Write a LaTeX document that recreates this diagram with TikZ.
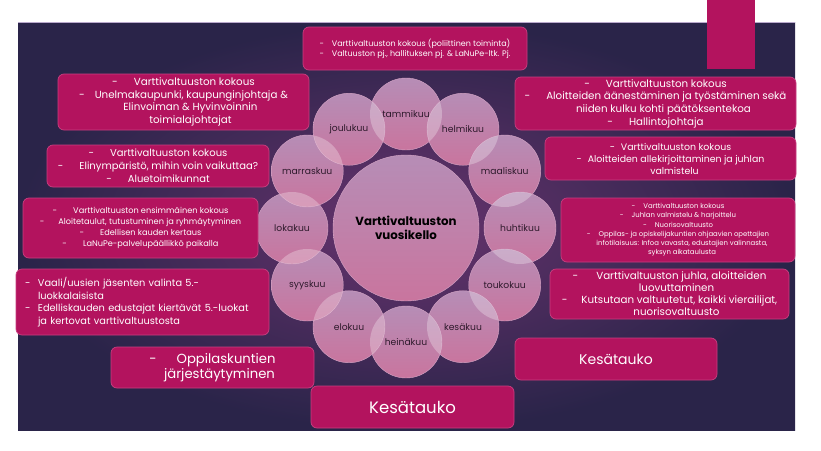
\documentclass[tikz,border=0pt]{standalone}
\usepackage{fontspec}
\setmainfont{Poppins}
\definecolor{bgdark}{HTML}{2A2449}
\definecolor{bgmid}{HTML}{68336E}
\definecolor{boxpink}{HTML}{B3135E}
\definecolor{boxedge}{HTML}{C93F80}
\definecolor{ctop}{HTML}{B68DB6}
\definecolor{cbot}{HTML}{C9759E}
\definecolor{cedge}{HTML}{D6A6C6}
\definecolor{mtext}{HTML}{2E1A2C}
\definecolor{topline}{HTML}{B9A9CC}
\newcommand{\dsh}[1]{-\hspace{#1}}
\begin{document}
\begin{tikzpicture}[x=1pt,y=-1pt,
  pbox/.style={rectangle, rounded corners=6pt, fill=boxpink, draw=boxedge, line width=0.7pt, text=white, align=center, inner sep=0pt},
  month/.style={circle, minimum size=72pt, inner sep=0pt, top color=ctop, bottom color=cbot, draw=cedge, line width=0.4pt},
  mlabel/.style={text=mtext, font=\fontsize{9.2}{10}\selectfont},
  lens/.style={white, opacity=0.28}]
\useasboundingbox (0,0) rectangle (821,450);
\fill[white] (0,0) rectangle (821,450);
% slide background
\shade[inner color=bgmid, outer color=bgdark] (18,22) rectangle (795,430);
\draw[topline, line width=0.6pt] (18,22) -- (795,22);
% top-right tab
\fill[boxpink] (707,0) rectangle (755,69);

% centre circle
\node[circle, minimum size=146pt, inner sep=0pt, top color=ctop, bottom color=cbot, draw=cedge, line width=0.4pt,
      text=black, align=center, font=\fontsize{11.8}{13.5}\selectfont\bfseries] (c) at (406,228) {Varttivaltuuston\\vuosikello};

% month circles
\foreach \i in {1,...,12}{
  \node[month] (m\i) at ({406+114*cos(30*(\i-1)-90)},{228+114*sin(30*(\i-1)-90)}) {};
}
% lighter overlaps
\foreach \i in {1,...,12}{
  \pgfmathtruncatemacro\j{mod(\i,12)+1}
  \begin{scope}
    \clip (m\i.center) circle (36pt);
    \fill[lens] (m\j.center) circle (36pt);
  \end{scope}
}
% month labels
\foreach \i/\m in {1/tammikuu,2/helmikuu,3/maaliskuu,4/huhtikuu,5/toukokuu,6/kesäkuu,7/heinäkuu,8/elokuu,9/syyskuu,10/lokakuu,11/marraskuu,12/joulukuu}{
  \node[mlabel] (l\i) at (m\i) {\m};
}

% top box
\node[pbox, minimum width=224pt, minimum height=43pt, align=left, font=\fontsize{8}{10.2}\selectfont] (t) at (415,48.5)
 {\dsh{8pt}Varttivaltuuston kokous (poliittinen toiminta)\\ \dsh{8pt}Valtuuston pj., hallituksen pj. \& LaNuPe-ltk. Pj.};

% left boxes
\node[pbox, minimum width=251pt, minimum height=56pt, font=\fontsize{10.3}{12.6}\selectfont] (l1) at (183.5,102)
 {\dsh{16pt}Varttivaltuuston kokous\\ \dsh{10pt}Unelmakaupunki, kaupunginjohtaja \&\\ \hspace{14pt}Elinvoiman \& Hyvinvoinnin\\ \hspace{14pt}toimialajohtajat};
\node[pbox, minimum width=222pt, minimum height=42pt, font=\fontsize{10}{12.8}\selectfont] (l2) at (158,166)
 {\dsh{16pt}Varttivaltuuston kokous\\ \dsh{16pt}Elinympäristö, mihin voin vaikuttaa?\\ \dsh{16pt}Aluetoimikunnat};
\node[pbox, minimum width=235pt, minimum height=60pt, font=\fontsize{8.2}{11}\selectfont] (l3) at (140.5,228)
 {\dsh{16pt}Varttivaltuuston ensimmäinen kokous\\ \dsh{14pt}Aloitetaulut, tutustuminen ja ryhmäytyminen\\ \dsh{16pt}Edellisen kauden kertaus\\ \dsh{16pt}LaNuPe-palvelupäällikkö paikalla};
\node[pbox, minimum height=66pt, text width=235pt, inner xsep=9pt, align=left, font=\fontsize{9.8}{12.5}\selectfont] (l4) at (142.5,302)
 {\makebox[13pt][l]{-}Vaali/uusien jäsenten valinta 5.-\\ \hspace*{13pt}luokkalaisista\\ \makebox[13pt][l]{-}Edelliskauden edustajat kiertävät 5.-luokat\\ \hspace*{13pt}ja kertovat varttivaltuustosta};
\node[pbox, minimum width=203pt, minimum height=41pt, font=\fontsize{13.2}{15}\selectfont] (l5) at (212.5,367.5)
 {\dsh{20pt}Oppilaskuntien\\ \hspace{14pt}järjestäytyminen};
\node[pbox, minimum width=203pt, minimum height=42pt, font=\fontsize{16.5}{18}\selectfont] (k1) at (412.5,407) {Kesätauko};

% right boxes
\node[pbox, minimum width=281pt, minimum height=53pt, font=\fontsize{10.3}{12.7}\selectfont] (r1) at (655.5,103.5)
 {\dsh{16pt}Varttivaltuuston kokous\\ \dsh{16pt}Aloitteiden äänestäminen ja työstäminen sekä\\ \hspace{16pt}niiden kulku kohti päätöksentekoa\\ \dsh{16pt}Hallintojohtaja};
\node[pbox, minimum width=251pt, minimum height=43pt, font=\fontsize{9.4}{12}\selectfont] (r2) at (670.5,158.5)
 {\dsh{6pt}Varttivaltuuston kokous\\ \dsh{6pt}Aloitteiden allekirjoittaminen ja juhlan\\ \hspace{8pt}valmistelu};
\node[pbox, minimum width=234pt, minimum height=64pt, font=\fontsize{6.9}{9.2}\selectfont] (r3) at (678,230)
 {\dsh{8pt}Varttivaltuuston kokous\\ \dsh{8pt}Juhlan valmistelu \& harjoittelu\\ \dsh{8pt}Nuorisovaltuusto\\ \dsh{8pt}Oppilas- ja opiskelijakuntien ohjaavien opettajien\\ \hspace{8pt}infotilaisuus: Infoa vavasta, edustajien valinnasta,\\ \hspace{8pt}syksyn aikataulusta};
\node[pbox, minimum width=239pt, minimum height=50pt, font=\fontsize{10.3}{12}\selectfont] (r4) at (669.5,294)
 {\dsh{18pt}Varttivaltuuston juhla, aloitteiden\\ \hspace{14pt}luovuttaminen\\ \dsh{14pt}Kutsutaan valtuutetut, kaikki vierailijat,\\ \hspace{14pt}nuorisovaltuusto};
\node[pbox, minimum width=202pt, minimum height=42pt, font=\fontsize{14}{16}\selectfont] (k2) at (616,359) {Kesätauko};
\end{tikzpicture}
\end{document}
